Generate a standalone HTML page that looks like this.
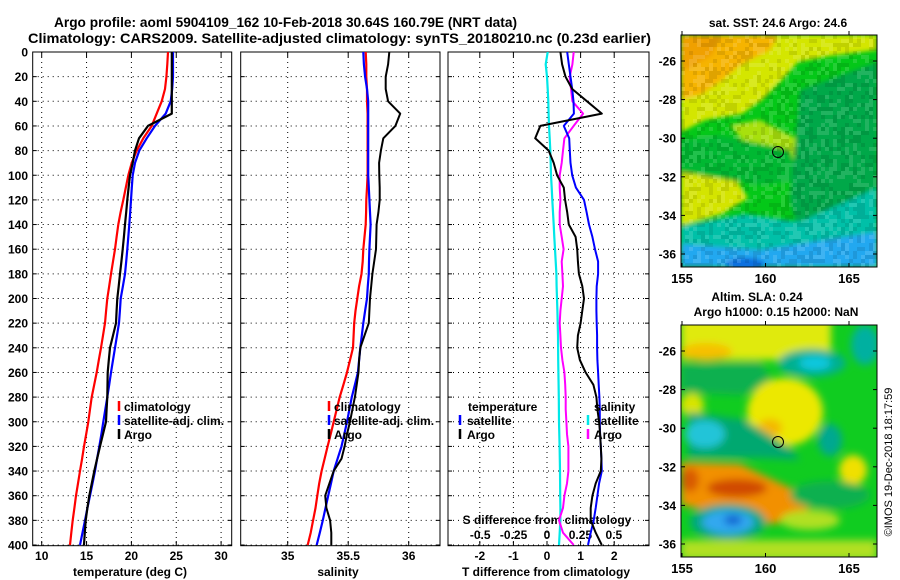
<!DOCTYPE html>
<html><head><meta charset="utf-8"><style>
html,body{margin:0;padding:0;background:#fff;}
svg{display:block;font-family:"Liberation Sans",sans-serif;font-weight:bold;}
</style></head><body>
<svg id="fig" width="900" height="580" viewBox="0 0 900 580" xmlns="http://www.w3.org/2000/svg">
<defs>
<filter id="bl1" x="-5%" y="-5%" width="110%" height="110%"><feGaussianBlur stdDeviation="2"/></filter>
<filter id="bl2" x="-20%" y="-20%" width="140%" height="140%"><feGaussianBlur stdDeviation="4"/></filter>
<clipPath id="cm1"><rect x="681" y="35" width="196" height="232"/></clipPath>
<clipPath id="cm2"><rect x="681" y="325" width="196" height="232"/></clipPath>
<clipPath id="cp1"><rect x="32.7" y="52" width="199" height="494"/></clipPath>
<clipPath id="cp2"><rect x="240.7" y="52" width="199" height="494"/></clipPath>
<clipPath id="cp3"><rect x="448" y="52" width="201" height="494"/></clipPath>
</defs>
<text x="54" y="27" font-size="14" textLength="463" lengthAdjust="spacingAndGlyphs">Argo profile: aoml 5904109_162 10-Feb-2018 30.64S 160.79E (NRT data)</text>
<text x="28" y="43" font-size="14" textLength="623" lengthAdjust="spacingAndGlyphs">Climatology: CARS2009. Satellite-adjusted climatology: synTS_20180210.nc (0.23d earlier)</text>
<g id="panels"></g>
<g id="maps">
<g clip-path="url(#cm1)">
<rect x="681" y="35" width="196" height="232" fill="#04c818"/>
<g filter="url(#bl1)">
<polygon points="681,35 877,35 877,50 830,56 798,62 782,80 762,100 742,114 705,120 681,132" fill="#d4e600"/>
<polygon points="681,35 778,35 770,50 742,64 722,80 702,94 681,100" fill="#f6b400"/>
<polygon points="681,35 722,35 712,55 690,68 681,70" fill="#f0a000"/>
<polygon points="730,125 760,120 800,140 805,165 780,168 750,150" fill="#a8e010"/>
<polygon points="681,172 735,178 748,198 722,214 681,226" fill="#d4e400"/>
<polygon points="681,140 720,135 790,150 800,180 760,185 681,172" fill="#00b830"/>
<polygon points="800,90 877,62 877,230 800,238 790,200" fill="#00a848"/>
<polygon points="681,226 745,214 800,222 877,188 877,267 681,267" fill="#00c0a8"/>
<polygon points="681,244 760,250 877,232 877,267 681,267" fill="#20a8f0"/>
<ellipse cx="745" cy="264" rx="20" ry="6" fill="#1070e0"/>
</g>
<g id="sstnoise"></g>
</g>
<g clip-path="url(#cm2)">
<rect x="681" y="325" width="196" height="232" fill="#10cc20"/>
<g filter="url(#bl2)">
<rect x="681" y="318" width="150" height="42" fill="#e0ea10"/>
<ellipse cx="706" cy="352" rx="26" ry="9" fill="#f6c000"/>
<ellipse cx="865" cy="345" rx="14" ry="20" fill="#00b0a0"/>
<polygon points="681,364 760,362 775,385 740,395 681,392" fill="#08b050"/>
<ellipse cx="785" cy="412" rx="38" ry="34" fill="#ece800"/>
<ellipse cx="692" cy="405" rx="12" ry="12" fill="#d8e400"/>
<ellipse cx="770" cy="428" rx="12" ry="9" fill="#f4b800"/>
<ellipse cx="812" cy="363" rx="34" ry="14" fill="#00b090"/>
<ellipse cx="815" cy="363" rx="16" ry="7" fill="#10c8e0"/>
<polygon points="688,412 745,420 790,448 800,460 760,458 688,458" fill="#00a870"/>
<ellipse cx="705" cy="434" rx="20" ry="14" fill="#20c4d8"/>
<ellipse cx="830" cy="440" rx="12" ry="16" fill="#00a890"/>
<polygon points="681,462 740,464 805,495 812,520 770,524 681,505" fill="#f29000"/>
<ellipse cx="737" cy="488" rx="30" ry="9" fill="#d04800"/>
<ellipse cx="690" cy="480" rx="9" ry="12" fill="#d85a00"/>
<ellipse cx="728" cy="522" rx="38" ry="18" fill="#00a880"/>
<ellipse cx="728" cy="522" rx="26" ry="12" fill="#30a8f0"/>
<ellipse cx="733" cy="520" rx="9" ry="5" fill="#1060d0"/>
<ellipse cx="853" cy="470" rx="14" ry="15" fill="#f0e000"/>
<ellipse cx="830" cy="495" rx="40" ry="14" fill="#08b050"/>
<rect x="681" y="540" width="196" height="20" fill="#b0e020"/>
<ellipse cx="810" cy="520" rx="30" ry="10" fill="#b0e020"/>
</g>
</g>
<rect x="681" y="35" width="196" height="232" fill="none" stroke="#000"/>
<rect x="681" y="325" width="196" height="232" fill="none" stroke="#000"/>
<circle cx="778" cy="152" r="5.5" fill="none" stroke="#000"/>
<circle cx="778" cy="442" r="5.5" fill="none" stroke="#000"/>
<text x="778" y="27" font-size="12" text-anchor="middle">sat. SST: 24.6 Argo: 24.6</text>
<text x="757" y="301" font-size="12" text-anchor="middle">Altim. SLA: 0.24</text>
<text x="776" y="316" font-size="12" text-anchor="middle">Argo h1000: 0.15 h2000: NaN</text>
<text font-size="11" font-weight="normal" transform="translate(892,462) rotate(-90)" text-anchor="middle">©IMOS 19-Dec-2018 18:17:59</text>
<g id="mapaxes"></g>
</g>
</svg>
<script>
// ---- data (depth levels every 10 m, 0..400) ----
const depths = [0,10,20,30,40,50,60,70,80,90,100,110,120,130,140,150,160,170,180,190,200,210,220,230,240,250,260,270,280,290,300,310,320,330,340,350,360,370,380,390,400];
const tempClim = [24.08,24.0,23.9,23.75,23.38,22.82,22.26,21.33,20.59,20.03,19.65,19.38,19.1,18.8,18.54,18.35,18.17,17.95,17.73,17.52,17.31,17.18,17.06,16.83,16.61,16.37,16.13,15.85,15.57,15.38,15.2,14.96,14.72,14.5,14.27,14.05,13.82,13.64,13.46,13.3,13.15];
const tempSat = [24.64,24.64,24.64,24.55,24.38,23.82,22.63,21.71,20.88,20.4,20.14,20.05,19.96,19.87,19.77,19.65,19.54,19.42,19.29,19.05,18.81,18.72,18.62,18.4,18.17,17.95,17.73,17.52,17.31,17.09,16.87,16.65,16.42,16.18,15.94,15.66,15.38,15.1,14.83,14.55,14.27];
const tempArgo = [24.5,24.5,24.5,24.5,24.5,24.5,21.85,20.85,20.4,20.14,19.84,19.69,19.54,19.42,19.29,19.16,19.03,18.88,18.73,18.58,18.43,18.35,18.28,17.95,17.61,17.48,17.36,17.33,17.31,17.24,17.17,16.83,16.5,16.18,15.86,15.58,15.31,15.1,14.9,14.8,14.72];
const salClim = [35.645,35.65,35.65,35.655,35.655,35.66,35.66,35.66,35.66,35.66,35.66,35.655,35.65,35.648,35.645,35.635,35.625,35.62,35.61,35.59,35.575,35.56,35.55,35.545,35.54,35.515,35.49,35.46,35.43,35.405,35.38,35.355,35.33,35.305,35.28,35.26,35.245,35.23,35.21,35.19,35.165];
const salSat = [35.625,35.63,35.64,35.655,35.665,35.665,35.665,35.665,35.665,35.665,35.665,35.67,35.675,35.68,35.685,35.68,35.675,35.672,35.67,35.662,35.655,35.64,35.625,35.612,35.6,35.59,35.58,35.555,35.53,35.51,35.49,35.468,35.445,35.412,35.38,35.358,35.335,35.312,35.29,35.265,35.24];
const salArgo = [35.84,35.83,35.81,35.81,35.83,35.93,35.89,35.79,35.77,35.755,35.757,35.76,35.76,35.75,35.735,35.732,35.73,35.715,35.70,35.69,35.68,35.675,35.67,35.635,35.60,35.59,35.585,35.57,35.555,35.535,35.515,35.49,35.47,35.445,35.38,35.345,35.31,35.32,35.35,35.36,35.36];
const dTempSat = [0.6,0.65,0.7,0.75,0.79,0.8,0.5,0.66,0.68,0.7,0.75,0.86,1.1,1.18,1.25,1.35,1.43,1.52,1.52,1.48,1.47,1.47,1.48,1.49,1.49,1.5,1.52,1.54,1.56,1.57,1.57,1.58,1.6,1.62,1.63,1.55,1.5,1.45,1.39,1.3,1.22];
const dTempArgo = [0.4,0.45,0.55,0.75,1.19,1.63,-0.2,-0.35,0.05,0.2,0.3,0.5,0.54,0.6,0.65,0.85,0.9,0.92,0.95,1.05,1.1,1.05,1.0,0.92,0.9,0.98,1.15,1.38,1.47,1.5,1.55,1.58,1.6,1.62,1.6,1.45,1.35,1.3,1.3,1.45,1.63];
const dSalSat = [0.005,-0.01,0,0.005,0.01,0.012,0.015,0.02,0.025,0.028,0.03,0.035,0.04,0.045,0.05,0.055,0.06,0.065,0.07,0.072,0.075,0.078,0.08,0.082,0.083,0.084,0.085,0.087,0.088,0.089,0.09,0.092,0.094,0.096,0.097,0.098,0.099,0.1,0.1,0.095,0.09];
const dSalArgo = [0.2,0.19,0.17,0.18,0.19,0.27,0.2,0.13,0.12,0.11,0.095,0.095,0.1,0.095,0.095,0.11,0.124,0.11,0.115,0.12,0.11,0.1,0.095,0.1,0.105,0.115,0.13,0.136,0.14,0.14,0.145,0.15,0.16,0.16,0.16,0.15,0.13,0.12,0.09,0.12,0.2];
const depthTicks = [0,20,40,60,80,100,120,140,160,180,200,220,240,260,280,300,320,340,360,380,400];
const tempTicks = [10,15,20,25,30];
const salTicks = [35,35.5,36];
const dTempTicks = [-2,-1,0,1,2];
const dSalTicks = [-0.5,-0.25,0,0.25,0.5];
const dSalTickLabels = ['-0.5','-0.25','0','0.25','0.5'];
const latTicks = [-26,-28,-30,-32,-34,-36];
const lonTicks = [155,160,165];

const NS='http://www.w3.org/2000/svg';
const yD = d => 52 + d*1.2325;
const xT = t => 41.7 + (t-10)*8.97;
const xS = s => 287.7 + (s-35)*121;
const xdT = t => 547 + t*33.6;
const xdS = s => 547 + s*133.6;
const latY1 = la => 61 + (-26-la)*19.3;
const latY2 = la => 351 + (-26-la)*19.3;
const lonX = lo => 682 + (lo-155)*16.7;

function mk(tag, attrs, parent){const e=document.createElementNS(NS,tag);for(const k in attrs)e.setAttribute(k,attrs[k]);parent.appendChild(e);return e;}

// pixel texture on SST map (visual only)
const noise=document.getElementById('sstnoise');
for(let gx=0;gx<49;gx++){for(let gy=0;gy<58;gy++){
  const h=Math.abs(Math.sin(gx*12.9898+gy*78.233)*43758.5453)%1;
  if(h<0.45)continue;
  const r=mk('rect',{x:681+gx*4,y:35+gy*4,width:4,height:4,fill:h>0.72?'#ffffff':'#000000','fill-opacity':h>0.72?0.13:0.09},noise);
}}

const panels=document.getElementById('panels');
const panelDefs=[
 {x0:32.7,x1:231.7,clip:'cp1',name:'temperature-panel'},
 {x0:240.7,x1:440,clip:'cp2',name:'salinity-panel'},
 {x0:448,x1:649,clip:'cp3',name:'difference-panel'}];
const gridX=[tempTicks.map(xT), salTicks.map(xS), dTempTicks.map(xdT)];
panelDefs.forEach((p,i)=>{
  const g=mk('g',{},panels);
  
  
  depthTicks.forEach(d=>{
    const l=mk('line',{x1:p.x0,x2:p.x1,y1:yD(d),y2:yD(d),stroke:'#000','stroke-width':1,'stroke-dasharray':'1,4'},g);
    
    
    mk('line',{x1:p.x0,x2:p.x0+4,y1:yD(d),y2:yD(d),stroke:'#000'},g);
    mk('line',{x1:p.x1,x2:p.x1-4,y1:yD(d),y2:yD(d),stroke:'#000'},g);
  });
  gridX[i].forEach(x=>{
    const l=mk('line',{x1:x,x2:x,y1:52,y2:545.7,stroke:'#000','stroke-width':1,'stroke-dasharray':'1,4'},g);
    
    
    mk('line',{x1:x,x2:x,y1:545.7,y2:541,stroke:'#000'},g);
    mk('line',{x1:x,x2:x,y1:52,y2:57,stroke:'#000'},g);
  });
  const fr=mk('rect',{x:p.x0,y:52,width:p.x1-p.x0,height:493.7,fill:'none',stroke:'#000'},g);
  
  
});
depthTicks.forEach(d=>{
  const t=mk('text',{x:28,y:yD(d)+4.5,'font-size':12,'text-anchor':'end'},panels);
  
  
  t.textContent=d;
});
function tickLabels(ticks, fx, labels, y, name){
  ticks.forEach((v,i)=>{
    const t=mk('text',{x:fx(v),y:y,'font-size':12,'text-anchor':'middle'},panels);
    
    
    t.textContent=labels?labels[i]:String(v);
  });
}
tickLabels(tempTicks,xT,null,560,'temperature-tick-label');
tickLabels(salTicks,xS,null,560,'salinity-tick-label');
tickLabels(dTempTicks,xdT,null,560,'t-difference-tick-label');
tickLabels(dSalTicks,xdS,dSalTickLabels,539,'s-difference-tick-label');
function label(txt,x,y,name,anchor){const t=mk('text',{x:x,y:y,'font-size':12,'text-anchor':anchor||'middle'},panels);t.textContent=txt;return t;}
label('temperature (deg C)',130,576,'temperature-axis-title');
label('salinity',338,576,'salinity-axis-title');
label('T difference from climatology',546,576,'t-difference-axis-title');
label('S difference from climatology',547,524,'s-difference-axis-title');

function series(vals, fx, color, w, clip, name){
  const pts=vals.map((v,i)=>fx(v).toFixed(1)+','+yD(depths[i]).toFixed(1)).join(' ');
  const pl=mk('polyline',{points:pts,fill:'none',stroke:color,'stroke-width':w,'clip-path':'url(#'+clip+')','stroke-linejoin':'round'},panels);
  
  
}
series(tempClim,xT,'#ff0000',2.2,'cp1','temperature-climatology-line');
series(tempSat,xT,'#0000ff',2.2,'cp1','temperature-satellite-line');
series(tempArgo,xT,'#000000',2.2,'cp1','temperature-argo-line');
series(salClim,xS,'#ff0000',2.2,'cp2','salinity-climatology-line');
series(salSat,xS,'#0000ff',2.2,'cp2','salinity-satellite-line');
series(salArgo,xS,'#000000',2,'cp2','salinity-argo-line');
series(dSalSat,xdS,'#00e8e8',2.2,'cp3','s-difference-satellite-line');
series(dSalArgo,xdS,'#ff00ff',2,'cp3','s-difference-argo-line');
series(dTempSat,xdT,'#0000ff',2,'cp3','t-difference-satellite-line');
series(dTempArgo,xdT,'#000000',2,'cp3','t-difference-argo-line');

function legendEntry(mx,tx,y,color,txt,name){
  const m=mk('line',{x1:mx,x2:mx,y1:y-10,y2:y,stroke:color,'stroke-width':2.5},panels);
  
  
  label(txt,tx,y,name,'start');
}
legendEntry(119,124,411,'#ff0000','climatology','legend-climatology');
legendEntry(119,124,425,'#0000ff','satellite-adj. clim.','legend-satellite-adj');
legendEntry(119,124,439,'#000000','Argo','legend-argo');
legendEntry(329,334,411,'#ff0000','climatology','legend-climatology-sal');
legendEntry(329,334,425,'#0000ff','satellite-adj. clim.','legend-satellite-adj-sal');
legendEntry(329,334,439,'#000000','Argo','legend-argo-sal');
label('temperature',468,411,'legend-temperature-heading','start');
legendEntry(460,467,425,'#0000ff','satellite','legend-t-satellite');
legendEntry(460,467,439,'#000000','Argo','legend-t-argo');
label('salinity',594,411,'legend-salinity-heading','start');
legendEntry(588,594,425,'#00e8e8','satellite','legend-s-satellite');
legendEntry(588,594,439,'#ff00ff','Argo','legend-s-argo');

// map axes
const ma=document.getElementById('mapaxes');
[[latY1,35,267],[latY2,325,557]].forEach(([fy,top,bot],k)=>{
  latTicks.forEach(la=>{
    const y=fy(la);
    mk('line',{x1:681,x2:685,y1:y,y2:y,stroke:'#000'},ma);
    mk('line',{x1:877,x2:873,y1:y,y2:y,stroke:'#000'},ma);
    const t=mk('text',{x:676,y:y+4.5,'font-size':12,'text-anchor':'end'},ma);
    
    
    t.textContent=la;
  });
  lonTicks.forEach(lo=>{
    const x=lonX(lo);
    mk('line',{x1:x,x2:x,y1:bot,y2:bot-4,stroke:'#000'},ma);
    mk('line',{x1:x,x2:x,y1:top,y2:top-4,stroke:'#000'},ma);
    const t=mk('text',{x:x,y:bot+16,'font-size':13,'text-anchor':'middle'},ma);
    
    
    t.textContent=lo;
  });
});
</script>
</body></html>
